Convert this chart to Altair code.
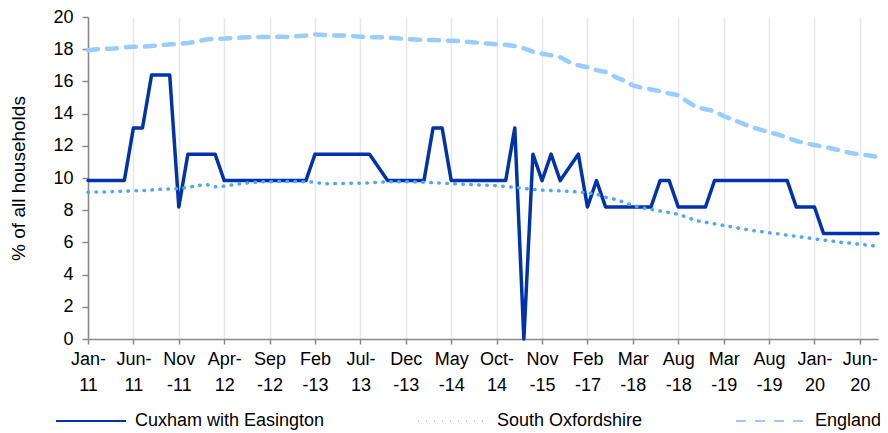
import json
import altair as alt
import pandas as pd

# ---- data ----
month_index = list(range(88))

cuxham = [9.84, 9.84, 9.84, 9.84, 9.84, 13.11, 13.11, 16.39, 16.39, 16.39,
          8.2, 11.48, 11.48, 11.48, 11.48, 9.84, 9.84, 9.84, 9.84, 9.84,
          9.84, 9.84, 9.84, 9.84, 9.84, 11.48, 11.48, 11.48, 11.48, 11.48,
          11.48, 11.48, 10.66, 9.84, 9.84, 9.84, 9.84, 9.84, 13.11, 13.11,
          9.84, 9.84, 9.84, 9.84, 9.84, 9.84, 9.84, 13.11, 0.0, 11.48,
          9.84, 11.48, 9.84, 10.66, 11.48, 8.2, 9.84, 8.2, 8.2, 8.2,
          8.2, 8.2, 8.2, 9.84, 9.84, 8.2, 8.2, 8.2, 8.2, 9.84,
          9.84, 9.84, 9.84, 9.84, 9.84, 9.84, 9.84, 9.84, 8.2, 8.2,
          8.2, 6.56, 6.56, 6.56, 6.56, 6.56, 6.56, 6.56]

south_oxon = [9.12, 9.13, 9.14, 9.16, 9.18, 9.2, 9.22, 9.26, 9.3, 9.32,
              9.34, 9.42, 9.52, 9.6, 9.45, 9.5, 9.58, 9.66, 9.72, 9.76,
              9.77, 9.78, 9.78, 9.78, 9.77, 9.73, 9.65, 9.65, 9.66, 9.67,
              9.68, 9.7, 9.74, 9.77, 9.77, 9.77, 9.76, 9.74, 9.71, 9.68,
              9.65, 9.62, 9.6, 9.57, 9.55, 9.52, 9.48, 9.42, 9.35, 9.3,
              9.25, 9.22, 9.2, 9.17, 9.13, 9.08, 9.0, 8.8, 8.68, 8.5,
              8.3, 8.15, 8.05, 7.95, 7.85, 7.75, 7.55, 7.35, 7.25, 7.15,
              7.05, 6.95, 6.85, 6.75, 6.68, 6.6, 6.53, 6.45, 6.38, 6.3,
              6.22, 6.15, 6.08, 6.0, 5.95, 5.88, 5.82, 5.75]

england = [17.94, 18.0, 18.02, 18.05, 18.12, 18.15, 18.15, 18.2, 18.25, 18.3,
           18.33, 18.38, 18.48, 18.6, 18.65, 18.66, 18.7, 18.72, 18.75, 18.76,
           18.76, 18.78, 18.76, 18.8, 18.85, 18.92, 18.88, 18.85, 18.85, 18.82,
           18.78, 18.75, 18.75, 18.72, 18.68, 18.63, 18.6, 18.58, 18.57, 18.55,
           18.52, 18.5, 18.45, 18.4, 18.35, 18.3, 18.27, 18.2, 18.05, 17.85,
           17.72, 17.62, 17.5, 17.2, 17.0, 16.88, 16.7, 16.58, 16.3, 16.05,
           15.75, 15.6, 15.5, 15.4, 15.25, 15.15, 14.75, 14.4, 14.27, 14.15,
           13.85, 13.62, 13.4, 13.18, 13.0, 12.85, 12.7, 12.5, 12.3, 12.15,
           12.05, 11.95, 11.82, 11.68, 11.55, 11.46, 11.4, 11.3]

series_names = ["Cuxham with Easington", "South Oxfordshire", "England"]
series_colors = ["#0033aa", "#4da6ff", "#99ccff"]
series_dashes = [[1, 0], [0.5, 7.5], [10, 9]]

tick_positions = list(range(0, 88, 5))
tick_labels = [["Jan-", "11"], ["Jun-", "11"], ["Nov", "-11"], ["Apr-", "12"],
               ["Sep", "-12"], ["Feb", "-13"], ["Jul-", "13"], ["Dec", "-13"],
               ["May", "-14"], ["Oct-", "14"], ["Nov", "-15"], ["Feb", "-17"],
               ["Mar", "-18"], ["Aug", "-18"], ["Mar", "-19"], ["Aug", "-19"],
               ["Jan-", "20"], ["Jun-", "20"]]
y_ticks = list(range(0, 21, 2))

rows = []
for name, vals in zip(series_names, [cuxham, south_oxon, england]):
    for i, v in zip(month_index, vals):
        rows.append({"idx": i, "value": v, "series": name})
df = pd.DataFrame(rows)

label_expr = json.dumps(tick_labels) + "[round(datum.value / 5)]"
FONT = "Liberation Sans"

legend = alt.Legend(
    title=None, orient="none", legendX=-33, legendY=368, direction="horizontal",
    columns=3, symbolType="stroke", symbolSize=4900, symbolStrokeWidth=2,
    labelFont=FONT, labelFontSize=18, labelColor="#000000", labelLimit=300,
    labelOffset=8, columnPadding=89,
)

base = alt.Chart(df).encode(
    x=alt.X("idx:Q",
            scale=alt.Scale(domain=[0, 87], nice=False, zero=False),
            axis=alt.Axis(values=tick_positions, labelExpr=label_expr, title=None,
                          grid=True, tickSize=5, labelPadding=6, labelLineHeight=26,
                          labelAngle=0, labelOverlap=False, labelFlush=False,
                          labelAlign="center")),
    y=alt.Y("value:Q",
            scale=alt.Scale(domain=[0, 20], nice=False),
            axis=alt.Axis(values=y_ticks, title="% of all households", grid=False,
                          tickSize=6, labelPadding=9, titlePadding=24,
                          titleFontSize=19)),
    color=alt.Color("series:N", legend=legend,
                    scale=alt.Scale(domain=series_names, range=series_colors)),
    strokeDash=alt.StrokeDash("series:N", legend=legend,
                              scale=alt.Scale(domain=series_names, range=series_dashes)),
)

local_lines = base.transform_filter(
    alt.datum.series != "England"
).mark_line(strokeCap="round", strokeJoin="round", strokeWidth=3.5)

england_line = base.transform_filter(
    alt.datum.series == "England"
).mark_line(strokeCap="round", strokeJoin="round", strokeWidth=4.5)

chart = alt.layer(local_lines, england_line).properties(
    width=790,
    height=322,
    autosize=alt.AutoSizeParams(type="none"),
    padding={"left": 80, "top": 9, "right": 2, "bottom": 92},
).configure_view(
    stroke=None
).configure_axis(
    labelFont=FONT, labelFontSize=18, labelColor="#000000",
    titleFont=FONT, titleFontSize=18, titleFontWeight="normal", titleColor="#000000",
    domainColor="#888888", domainWidth=1.5, tickColor="#888888", tickWidth=1.5,
    gridColor="#e8e8e8", gridWidth=1.5,
)

chart.save("out.html", embed_options={"renderer": "svg", "actions": False})
